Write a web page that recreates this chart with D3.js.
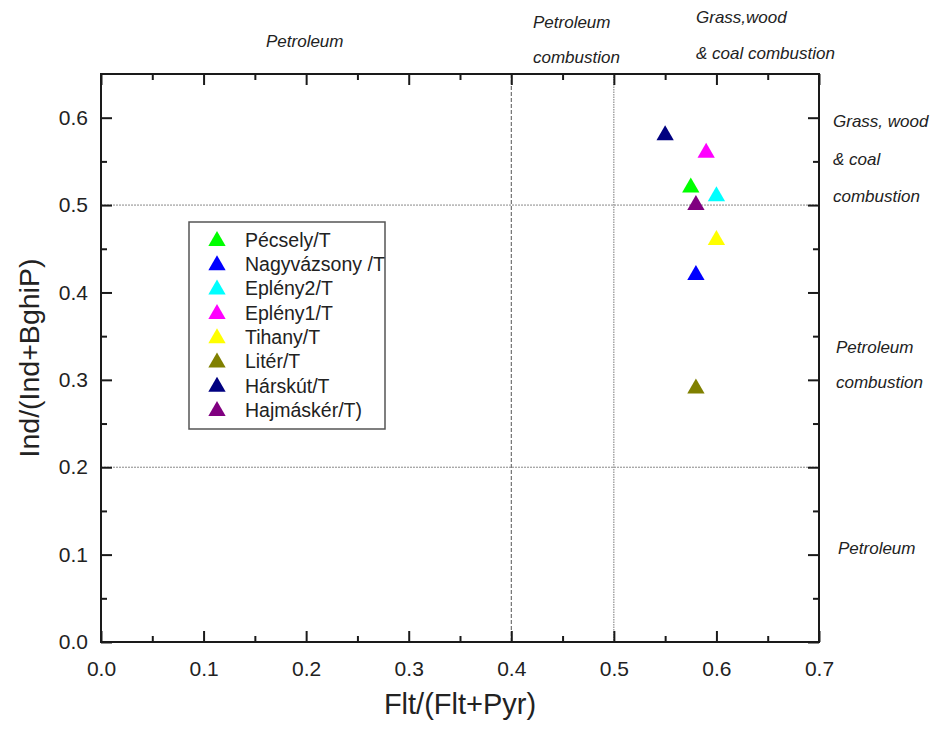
<!DOCTYPE html>
<html>
<head>
<meta charset="utf-8">
<script src="https://cdn.jsdelivr.net/npm/d3@7"></script>
<style>
  html, body { margin: 0; padding: 0; background: #fff; }
  svg { display: block; font-family: "Liberation Sans", Arial, sans-serif; }
</style>
</head>
<body>
<svg id="chart" width="940" height="729"></svg>
<script>
// ---- data ----
const sites = ["Pécsely/T", "Nagyvázsony /T", "Eplény2/T", "Eplény1/T", "Tihany/T", "Litér/T", "Hárskút/T", "Hajmáskér/T)"];
const fltRatio = [0.575, 0.58, 0.60, 0.59, 0.60, 0.58, 0.55, 0.58];
const indRatio = [0.52, 0.42, 0.51, 0.56, 0.46, 0.29, 0.58, 0.50];
const siteColors = ["#00ff00", "#0000ff", "#00ffff", "#ff00ff", "#ffff00", "#808000", "#000080", "#800080"];
const xTicks = [0, 0.1, 0.2, 0.3, 0.4, 0.5, 0.6, 0.7];
const yTicks = [0, 0.1, 0.2, 0.3, 0.4, 0.5, 0.6];
const xThresholds = [0.4, 0.5];
const yThresholds = [0.2, 0.5];
const xTitle = "Flt/(Flt+Pyr)";
const yTitle = "Ind/(Ind+BghiP)";
const topLabels = [["Petroleum"], ["Petroleum", "combustion"], ["Grass,wood", "& coal combustion"]];
const rightLabels = [["Grass, wood", "& coal", "combustion"], ["Petroleum", "combustion"], ["Petroleum"]];

// ---- layout ----
const svg = d3.select("#chart");
const L = 101, R = 819, T = 74, B = 642;
const x = d3.scaleLinear().domain([0, 0.7]).range([L, R]);
const y = d3.scaleLinear().domain([0, 0.65]).range([B, T]);
const axisColor = "#1a1a1a";

// threshold lines
svg.append("line").attr("x1", x(xThresholds[0])).attr("x2", x(xThresholds[0]))
  .attr("y1", T).attr("y2", B).attr("stroke", "#555").attr("stroke-width", 1).attr("stroke-dasharray", "4,2");
svg.append("line").attr("x1", x(xThresholds[1])).attr("x2", x(xThresholds[1]))
  .attr("y1", T).attr("y2", B).attr("stroke", "#777").attr("stroke-width", 1).attr("stroke-dasharray", "1.5,1");
yThresholds.forEach(v => {
  svg.append("line").attr("x1", L).attr("x2", R).attr("y1", y(v)).attr("y2", y(v))
    .attr("stroke", "#888").attr("stroke-width", 1).attr("stroke-dasharray", "2,1");
});

// axes
const major = 11, minor = 6;
const xMinor = d3.range(0.05, 0.7, 0.1);
const yMinor = d3.range(0.05, 0.65, 0.1);
function styleAxis(g) {
  g.select(".domain").remove();
  g.selectAll(".tick line").attr("stroke", axisColor).attr("stroke-width", 2);
  g.selectAll(".tick text").attr("fill", "#222").style("font-size", "21px").style("font-family", "Liberation Sans, Arial, sans-serif");
}
svg.append("g").attr("transform", `translate(0,${B})`)
  .call(d3.axisBottom(x).tickValues(xTicks).tickFormat(d3.format(".1f")).tickSize(-major).tickPadding(19)).call(styleAxis);
svg.append("g").attr("transform", `translate(0,${B})`)
  .call(d3.axisBottom(x).tickValues(xMinor).tickFormat("").tickSize(-minor)).call(styleAxis);
svg.append("g").attr("transform", `translate(${L},0)`)
  .call(d3.axisLeft(y).tickValues(yTicks).tickFormat(d3.format(".1f")).tickSize(-major).tickPadding(13)).call(styleAxis);
svg.append("g").attr("transform", `translate(${L},0)`)
  .call(d3.axisLeft(y).tickValues(yMinor).tickFormat("").tickSize(-minor)).call(styleAxis);
svg.append("g").attr("transform", `translate(0,${T})`)
  .call(d3.axisTop(x).tickValues(xTicks).tickFormat("").tickSize(-major)).call(styleAxis);
svg.append("g").attr("transform", `translate(0,${T})`)
  .call(d3.axisTop(x).tickValues(xMinor).tickFormat("").tickSize(-minor)).call(styleAxis);
svg.append("g").attr("transform", `translate(${R},0)`)
  .call(d3.axisRight(y).tickValues(yTicks).tickFormat("").tickSize(-major)).call(styleAxis);
svg.append("g").attr("transform", `translate(${R},0)`)
  .call(d3.axisRight(y).tickValues(yMinor).tickFormat("").tickSize(-minor)).call(styleAxis);

// frame
svg.append("rect").attr("x", L).attr("y", T).attr("width", R - L).attr("height", B - T)
  .attr("fill", "none").attr("stroke", axisColor).attr("stroke-width", 2);

// axis titles
svg.append("text").attr("x", (L + R) / 2).attr("y", 714).attr("text-anchor", "middle")
  .style("font-size", "29px").attr("fill", "#222").text(xTitle);
svg.append("text").attr("transform", `translate(39,${(T + B) / 2}) rotate(-90)`).attr("text-anchor", "middle")
  .style("font-size", "28.5px").attr("fill", "#222").text(yTitle);

// data points
const tri = d3.symbol().type(d3.symbolTriangle).size(130);
svg.append("g").selectAll("path").data(sites).join("path")
  .attr("d", tri)
  .attr("transform", (d, i) => `translate(${x(fltRatio[i])},${y(indRatio[i])})`)
  .attr("fill", (d, i) => siteColors[i]);

// legend
const lg = svg.append("g");
lg.append("rect").attr("x", 189).attr("y", 222).attr("width", 196).attr("height", 207)
  .attr("fill", "#fff").attr("stroke", "#555").attr("stroke-width", 1.5);
const rowH = 24.3;
sites.forEach((s, i) => {
  const cy = 240 + i * rowH;
  lg.append("path").attr("d", tri).attr("transform", `translate(217,${cy + 1})`).attr("fill", siteColors[i]);
  lg.append("text").attr("x", 245).attr("y", cy).attr("dy", "0.35em")
    .style("font-size", "19.5px").attr("fill", "#222").text(s);
});

// region annotations
const ann = svg.append("g").style("font-style", "italic").style("font-size", "17px").attr("fill", "#222");
const topPos = [[266, 47, 0], [533, 28, 35], [696, 23, 36]];
topLabels.forEach((lines, i) => {
  lines.forEach((t, j) => ann.append("text").attr("x", topPos[i][0]).attr("y", topPos[i][1] + j * topPos[i][2]).text(t));
});
const rightPos = [[833, 127, 37.5], [836, 353, 35], [838, 554, 0]];
rightLabels.forEach((lines, i) => {
  lines.forEach((t, j) => ann.append("text").attr("x", rightPos[i][0]).attr("y", rightPos[i][1] + j * rightPos[i][2]).text(t));
});
</script>
</body>
</html>
